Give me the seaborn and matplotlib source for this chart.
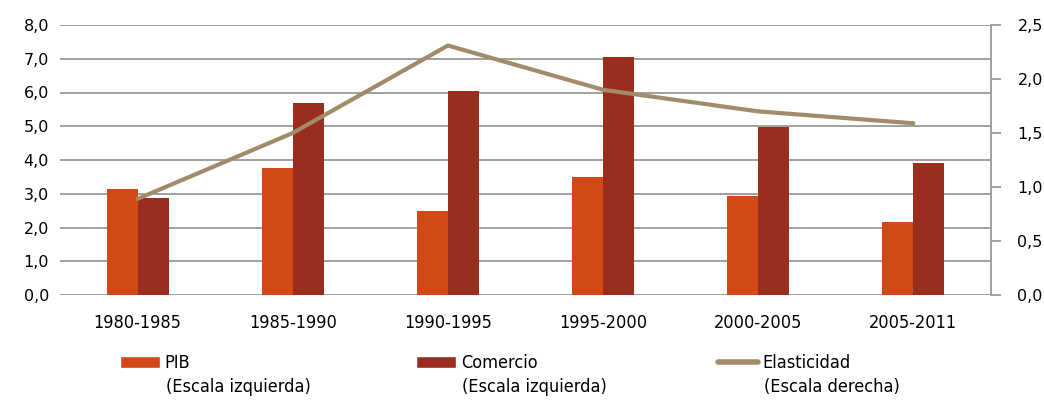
import numpy as np
import pandas as pd
import matplotlib
matplotlib.use("Agg")
import matplotlib.pyplot as plt
import seaborn as sns
from matplotlib.patches import Patch
from matplotlib.lines import Line2D
from matplotlib.ticker import FuncFormatter

periodos = ['1980-1985', '1985-1990', '1990-1995', '1995-2000', '2000-2005', '2005-2011']
pib = [3.15, 3.77, 2.48, 3.50, 2.92, 2.17]
comercio = [2.87, 5.68, 6.04, 7.06, 4.98, 3.90]
elasticidad = [0.89, 1.50, 2.31, 1.90, 1.70, 1.59]

c_pib = '#D34817'
c_com = '#9B2D1F'
c_ela = '#A28B69'
gris = '#999999'

df = pd.DataFrame({'periodo': periodos * 2,
                   'valor': pib + comercio,
                   'serie': ['PIB'] * 6 + ['Comercio'] * 6})

sns.set_style('white')
plt.rcParams['font.family'] = ['DejaVu Sans']
plt.rcParams['text.color'] = 'black'

fig = plt.figure(figsize=(10.44, 4.0), dpi=100)
ax = fig.add_axes([60 / 1044, 105 / 400, 931 / 1044, 270 / 400])

sns.barplot(data=df, x='periodo', y='valor', hue='serie', order=periodos,
            palette=[c_pib, c_com], width=0.4, gap=0, saturation=1, ax=ax,
            edgecolor='none', legend=False)

ax.set_ylim(0, 8)
ax.set_yticks(np.arange(0, 8.1, 1))
ax.yaxis.set_major_formatter(FuncFormatter(lambda v, p: f'{v:.1f}'.replace('.', ',')))
ax.grid(axis='y', color=gris, linewidth=1.3)
ax.set_axisbelow(True)
for s in ax.spines.values():
    s.set_visible(False)
ax.set_xlabel('')
ax.set_ylabel('')
ax.tick_params(axis='y', length=0, pad=8, labelsize=11.5, labelcolor='black')
ax.tick_params(axis='x', length=0, pad=14, labelcolor='black')
for lab in ax.get_xticklabels():
    lab.set_fontsize(13)
    lab.set_fontstretch('condensed')

ax2 = ax.twinx()
sns.lineplot(x=list(range(6)), y=elasticidad, color=c_ela, linewidth=3, ax=ax2)
ax2.set_ylim(0, 2.5)
ax2.set_yticks(np.arange(0, 2.51, 0.5))
ax2.yaxis.set_major_formatter(FuncFormatter(lambda v, p: f'{v:.1f}'.replace('.', ',')))
for s in ['top', 'left', 'bottom']:
    ax2.spines[s].set_visible(False)
ax2.spines['right'].set_color(gris)
ax2.spines['right'].set_linewidth(1.3)
ax2.tick_params(axis='y', length=7, width=1.3, color=gris, pad=12, labelsize=11.5,
                labelcolor='black')
ax2.grid(False)
ax.set_xlim(-0.5, 5.5)

etiquetas = [('PIB', '(Escala izquierda)', Patch(facecolor=c_pib), 120),
             ('Comercio', '(Escala izquierda)', Patch(facecolor=c_com), 416),
             ('Elasticidad', '(Escala derecha)', Line2D([0], [0], color=c_ela, linewidth=4), 718)]
for nombre, escala, h, x0 in etiquetas:
    fig.legend([h], [nombre], loc='center left', bbox_to_anchor=(x0 / 1044, 1 - 363 / 400),
               frameon=False, borderaxespad=0, borderpad=0,
               handlelength=2.2, handleheight=0.65, handletextpad=0.28,
               prop={'size': 13, 'stretch': 'condensed'})
    fig.text((x0 + 46) / 1044, 1 - 387 / 400, escala, fontsize=13, fontstretch='condensed',
             va='center', ha='left')

fig.savefig('out.png', dpi=100)
